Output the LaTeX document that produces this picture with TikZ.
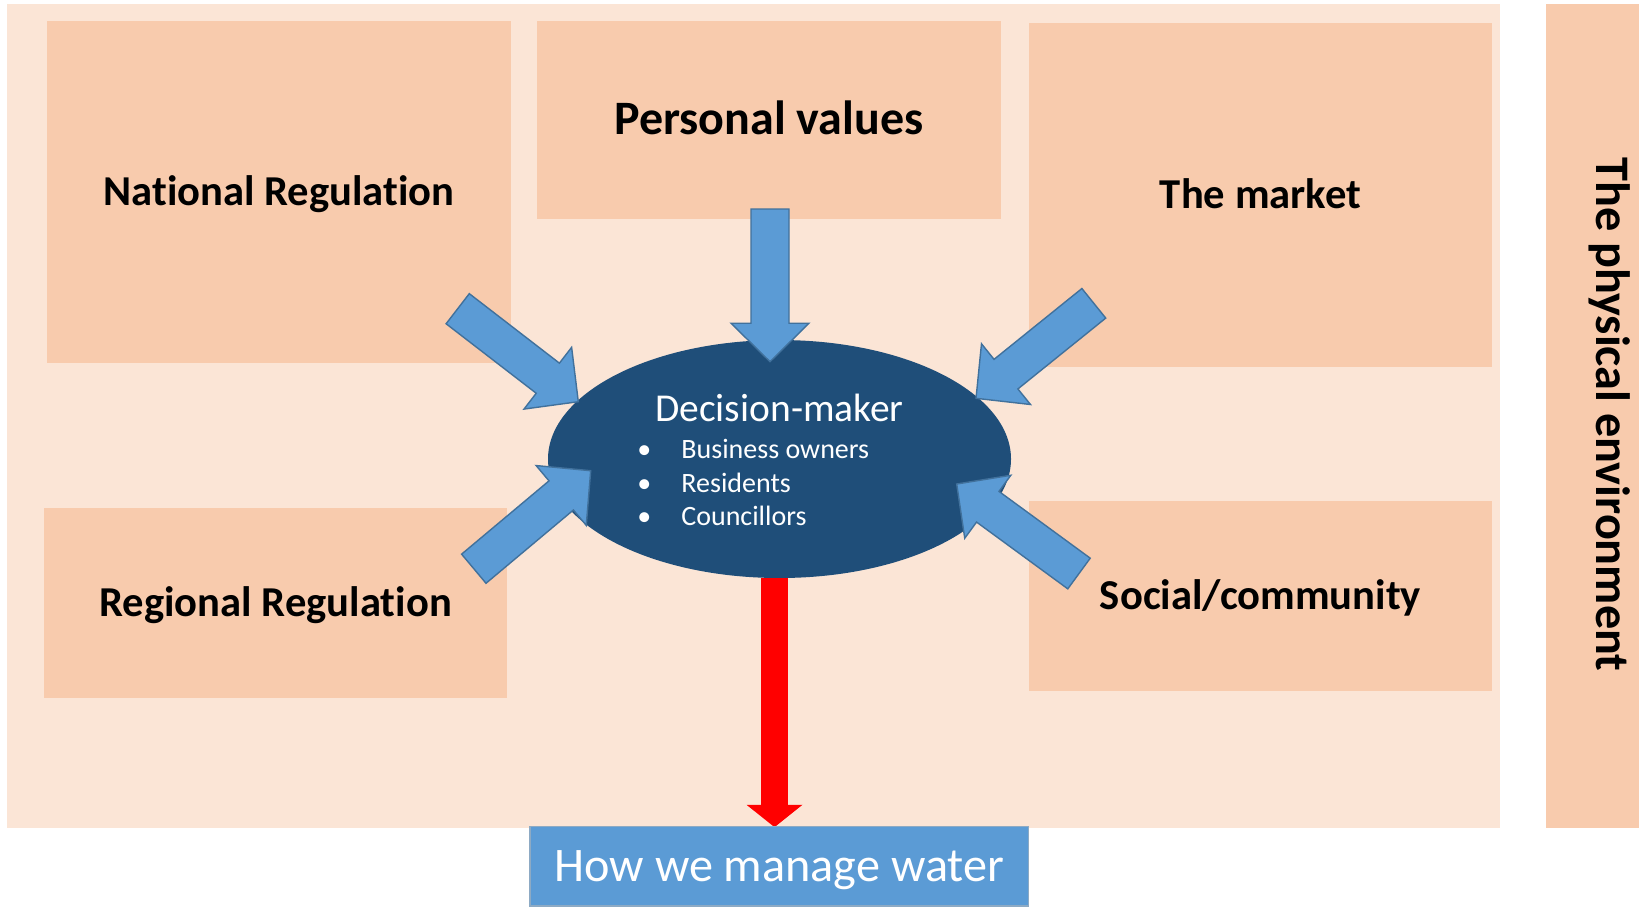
\documentclass[tikz,border=0pt]{standalone}
\usepackage{fontspec}
\setmainfont{Carlito}[Ligatures=NoCommon]
\usetikzlibrary{calc}
\usetikzlibrary{shapes.geometric}
\usetikzlibrary{arrows.meta}

\definecolor{panelpeach}{HTML}{FBE5D6}
\definecolor{boxpeach}{HTML}{F8CBAD}
\definecolor{dmblue}{HTML}{1F4E79}
\definecolor{arrowblue}{HTML}{5B9BD5}
\definecolor{arrowedge}{HTML}{41719C}

% block arrow from tail #1 to tip #2
\newcommand{\blockarrow}[2]{%
  \coordinate (head) at ($(#2)!19.25pt!(#1)$);
  \path[influence] ($(#1)!9.5pt!90:(#2)$) -- ($(head)!9.5pt!90:(#2)$) -- ($(head)!19.5pt!90:(#2)$) -- (#2)
    -- ($(head)!19.5pt!-90:(#2)$) -- ($(head)!9.5pt!-90:(#2)$) -- ($(#1)!9.5pt!-90:(#2)$) -- cycle;}

\begin{document}
\begin{tikzpicture}[x=0.5pt,y=-0.5pt,
      backdrop/.style={inner sep=0pt,outer sep=0pt},
      factor/.style={fill=boxpeach,inner sep=0pt,outer sep=0pt,text height=13.46pt,text depth=0pt,
                     font=\fontsize{21.3}{25}\selectfont\bfseries},
      decider/.style={ellipse,fill=dmblue,inner sep=0pt,minimum width=231.5pt,minimum height=119pt},
      member/.style={anchor=base west,inner sep=0pt,text=white,font=\fontsize{14}{17}\selectfont},
      outcome/.style={fill=arrowblue,draw=arrowedge!60,line width=0.6pt,text=white,inner sep=0pt,
                      text height=15.2pt,text depth=0pt,font=\fontsize{24.1}{29}\selectfont},
      influence/.style={fill=arrowblue,draw=arrowedge,line width=0.7pt,line join=miter},
      result/.style={draw=red,line width=13.25pt,-{Triangle[width=27.4pt,length=11.2pt]}}]
      \useasboundingbox[fill=white] (0,0) rectangle (1647,907);

      % Background
      \node[backdrop,fill=panelpeach,minimum width=746.3pt,minimum height=411.75pt] (panel)  at (753.7,416) {};
      \node[backdrop,fill=boxpeach,  minimum width=46.2pt, minimum height=411.75pt] (envbar) at (1592.4,416) {};
      \node[rotate=-90,anchor=base,font=\fontsize{24.1}{29}\selectfont\bfseries] (envtext) at (1596,414.4) {The physical environment};

      % Blocks
      \node[factor,minimum width=231.6pt,minimum height=171.2pt] (national) at (278.9,192.2) {National Regulation};
      \node[factor,minimum width=232.1pt,minimum height=98.75pt,text height=15.17pt,font=\fontsize{24}{29}\selectfont\bfseries]
                                                                  (personal) at (768.9,119.75) {Personal values};
      \node[factor,minimum width=231.1pt,minimum height=171.8pt] (market)   at (1260.5,194.8) {The market};
      \node[factor,minimum width=231.6pt,minimum height=94.55pt] (regional) at (275.6,603)    {Regional Regulation};
      \node[factor,minimum width=231.1pt,minimum height=95pt]    (social)   at (1260.5,596)   {Social/community};

      % Decision-maker
      \node[decider] (dm) at (779.5,459) {};
      \node[anchor=base,inner sep=0pt,text=white,font=\fontsize{19.75}{23}\selectfont] (dm-title) at (779.5,421.7) {Decision-maker};
      \foreach \who [count=\i] in {Business owners,Residents,Councillors}
        \node[member] (member-\i) at (637,424.6+33.7*\i) {\makebox[22pt][l]{•}\who};

      % Outcome
      \draw[result] ([xshift=-2.5pt]dm.south) -- ([xshift=-2.5pt,yshift=0.3pt]dm.south |- panel.south);
      \node[outcome,minimum width=249.3pt,minimum height=39.75pt] (water) at (779.3,866.25) {How we manage water};

      % Arrows
      \coordinate (national-out) at (457.7,308.7);  \coordinate (national-in) at (578.3,401.7);
      \coordinate (personal-out) at (770,209);      \coordinate (personal-in) at (770,361.7);
      \coordinate (market-out)   at (1093.8,303.3); \coordinate (market-in)   at (976,398.3);
      \coordinate (regional-out) at (473.8,568.7);  \coordinate (regional-in) at (590.7,470.7);
      \coordinate (social-out)   at (1079,573.5);   \coordinate (social-in)   at (956.7,484);
      \blockarrow{national-out}{national-in}
      \blockarrow{personal-out}{personal-in}
      \blockarrow{market-out}{market-in}
      \blockarrow{regional-out}{regional-in}
      \blockarrow{social-out}{social-in}

    \end{tikzpicture}
\end{document}
